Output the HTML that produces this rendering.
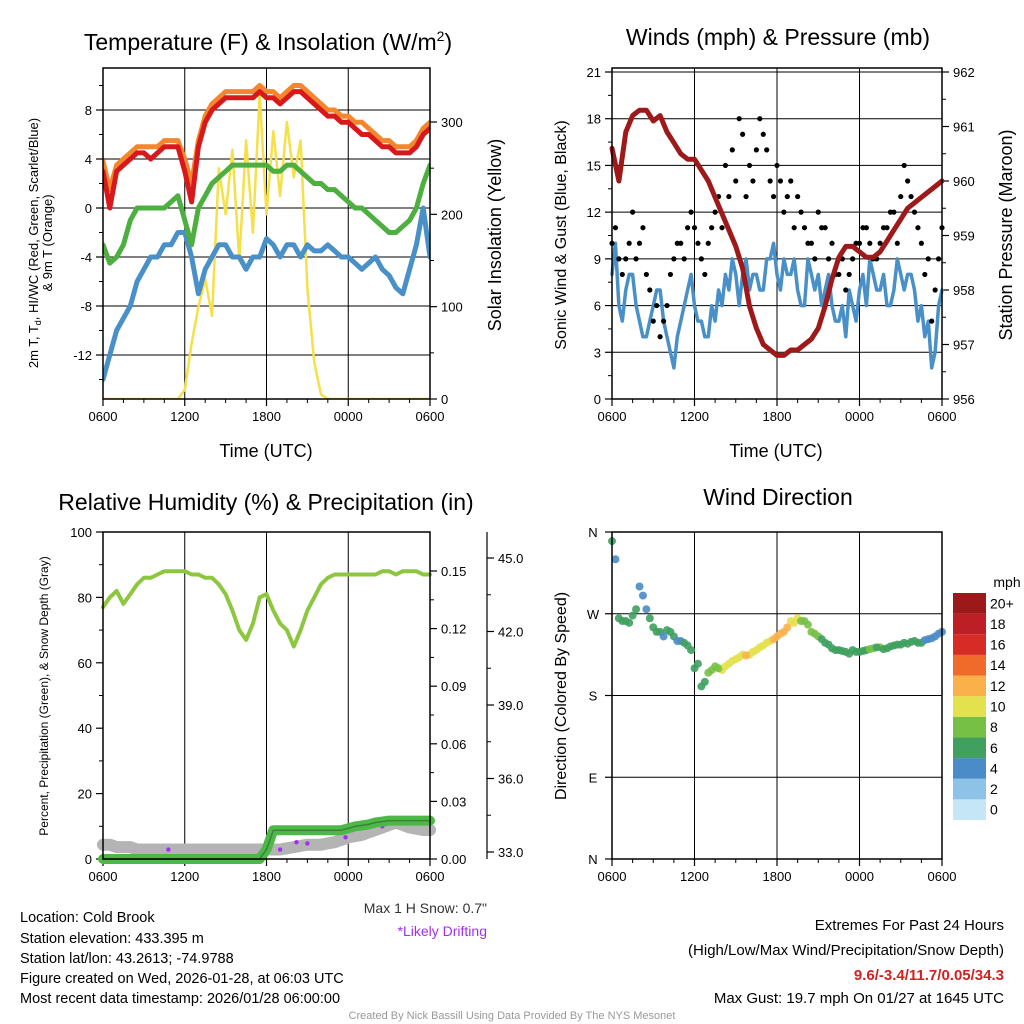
<!DOCTYPE html>
<html><head><meta charset="utf-8"><style>
body{margin:0;background:#fff}
svg{display:block;font-family:"Liberation Sans",sans-serif}
</style></head><body>
<svg id="s" width="1024" height="1024" viewBox="0 0 1024 1024" xmlns="http://www.w3.org/2000/svg">
<rect width="1024" height="1024" fill="#fff"/>
<g id="g"></g>
<text x="268" y="50" font-size="23" text-anchor="middle">Temperature (F) &amp; Insolation (W/m<tspan dy="-9" font-size="14">2</tspan><tspan dy="9">)</tspan></text>
<text x="778" y="45" font-size="23" text-anchor="middle">Winds (mph) &amp; Pressure (mb)</text>
<text x="266" y="510" font-size="23" text-anchor="middle">Relative Humidity (%) &amp; Precipitation (in)</text>
<text x="778" y="505" font-size="23" text-anchor="middle">Wind Direction</text>
<text x="266" y="457" font-size="18" text-anchor="middle">Time (UTC)</text>
<text x="776" y="457" font-size="18" text-anchor="middle">Time (UTC)</text>
<text transform="translate(38,243) rotate(-90)" font-size="13" text-anchor="middle">2m T, T<tspan dy="3" font-size="9">d</tspan><tspan dy="-3">, HI/WC (Red, Green, Scarlet/Blue)</tspan></text>
<text transform="translate(52,243) rotate(-90)" font-size="13" text-anchor="middle">&amp; 9m T (Orange)</text>
<text transform="translate(501,235) rotate(-90)" font-size="18" text-anchor="middle">Solar Insolation (Yellow)</text>
<text transform="translate(566,235) rotate(-90)" font-size="16" text-anchor="middle">Sonic Wind &amp; Gust (Blue, Black)</text>
<text transform="translate(1012,235) rotate(-90)" font-size="18" text-anchor="middle">Station Pressure (Maroon)</text>
<text transform="translate(48,696) rotate(-90)" font-size="12" text-anchor="middle">Percent, Precipitation (Green), &amp; Snow Depth (Gray)</text>
<text transform="translate(566,696) rotate(-90)" font-size="16" text-anchor="middle">Direction (Colored By Speed)</text>
<text x="487" y="913" font-size="14" text-anchor="end" fill="#333">Max 1 H Snow: 0.7"</text>
<text x="487" y="936" font-size="14" text-anchor="end" fill="#a030f0">*Likely Drifting</text>
<g font-size="14.5">
<text x="20" y="922">Location: Cold Brook</text>
<text x="20" y="943">Station elevation: 433.395 m</text>
<text x="20" y="963">Station lat/lon: 43.2613; -74.9788</text>
<text x="20" y="983">Figure created on Wed, 2026-01-28, at 06:03 UTC</text>
<text x="20" y="1003">Most recent data timestamp: 2026/01/28 06:00:00</text>
</g>
<g font-size="15" text-anchor="end">
<text x="1004" y="930">Extremes For Past 24 Hours</text>
<text x="1004" y="955">(High/Low/Max Wind/Precipitation/Snow Depth)</text>
<text x="1004" y="980" fill="#d42020" font-weight="bold">9.6/-3.4/11.7/0.05/34.3</text>
<text x="1004" y="1003">Max Gust: 19.7 mph On 01/27 at 1645 UTC</text>
</g>
<text x="512" y="1019" font-size="11" fill="#999" text-anchor="middle">Created By Nick Bassill Using Data Provided By The NYS Mesonet</text>
<text x="1007" y="587" font-size="14" text-anchor="middle">mph</text>
</svg>
<script>
// ---- data (half-hour steps from 0600 UTC) ----
const xTickLabels = ["0600","1200","1800","0000","0600"];
const tempTicks = [8,4,0,-4,-8,-12];
const solarTicks = [0,100,200,300];
const tempRed = [3,0,3,3.5,4,4.5,4.5,4,4.5,5,5,5,3,0.5,5,7,8,8.5,9,9,9,9,9,9.5,9,9,8.5,9,9.5,9.5,9,8.5,8,7.5,7.5,7,7,6.5,6,6,5.5,5,5,4.5,4.5,4.5,5,6,6.5];
const tempOrange = [3.8,1.5,3.5,4,4.5,5,5,5,5,5.5,5.5,5.5,4,2,5.5,7.5,8.5,9,9.5,9.5,9.5,9.5,9.5,10,9.5,9.5,9,9.5,10,10,9.5,9,8.5,8,8,7.5,7.5,7,7,6.5,6,5.5,5.5,5,5,5,5.5,6.5,7];
const tempGreen = [-3,-4.5,-4,-3,-1,0,0,0,0,0,0.5,1,-1,-3,0,1,2,2.5,3,3.5,3.5,3.5,3.5,3.5,3.5,3,3,3.5,3.5,3,2.5,2,2,1.5,1.5,1,0.5,0,0,-0.5,-1,-1.5,-2,-2,-1.5,-1,0,2,3.5];
const tempBlue = [-14,-12,-10,-9,-8,-6,-5,-4,-4,-3,-3,-2,-2,-4,-7,-5,-4,-3,-3,-4,-4,-5,-4,-4,-2.5,-3,-4,-3,-3,-4,-3,-3.5,-3.5,-3,-3.5,-4,-4,-4.5,-5,-4.5,-4,-5,-5.5,-6.5,-7,-5,-3,0,-4];
const solar = [0,0,0,0,0,0,0,0,0,0,0,0,10,60,100,130,90,250,200,270,150,280,180,330,200,290,220,300,240,280,120,40,5,0,0,0,0,0,0,0,0,0,0,0,0,0,0,0,0];
const windTicks = [0,3,6,9,12,15,18,21];
const pressTicks = [956,957,958,959,960,961,962];
const wind = [8,6,7,8,5,4,6,7,4,2,5,7,6,5,4,5,6,7,8,8,7,8,7,9,8,9,8,7,6,8,8,7,6,5,4,6,7,6,8,7,6,7,8,8,7,6,5,3,7];
const windB = [10,5,8,6,4,5,7,5,3,4,6,8,5,4,6,7,8,9,6,9,8,7,9,10,7,8,9,6,9,7,6,8,5,6,7,5,8,9,7,8,6,9,7,8,5,4,2,6];
const gustA = [10,9,9,12,10,8,5,4,6,9,10,11,11,9,10,12,11,13,14,17,15,16,17,14,15,12,14,13,11,10,12,11,10,8,7,9,10,11,9,10,11,12,13,14,12,10,9,7,11];
const gustB = [11,8,10,9,11,7,6,5,8,10,9,12,10,8,11,13,15,16,18,13,14,18,16,13,14,13,11,12,10,9,11,9,8,9,8,10,11,10,9,11,12,10,15,13,11,8,5,9];
const pressure = [960.6,960.0,960.9,961.2,961.3,961.3,961.1,961.2,960.9,960.7,960.5,960.4,960.4,960.2,960.0,959.7,959.4,959.1,958.8,958.4,957.7,957.3,957.0,956.9,956.8,956.8,956.9,956.9,957.0,957.1,957.3,957.7,958.2,958.6,958.8,958.8,958.7,958.6,958.6,958.7,958.9,959.1,959.3,959.5,959.6,959.7,959.8,959.9,960.0];
const rhTicks = [0,20,40,60,80,100];
const precipTicks = ["0.00","0.03","0.06","0.09","0.12","0.15"];
const snowTicks = ["33.0","36.0","39.0","42.0","45.0"];
const rh = [77,80,82,78,81,84,86,86,87,88,88,88,88,87,87,86,86,84,81,76,70,67,72,80,81,76,72,70,65,70,76,80,84,86,87,87,87,87,87,87,87,88,88,87,88,88,88,87,87];
const precip = [0,0,0,0,0,0,0,0,0,0,0,0,0,0,0,0,0,0,0,0,0,0,0,0,0.005,0.015,0.015,0.015,0.015,0.015,0.015,0.015,0.015,0.015,0.015,0.015,0.016,0.017,0.0175,0.018,0.019,0.0195,0.02,0.02,0.02,0.02,0.02,0.02,0.02];
const snow = [33.3,33.3,33.2,33.2,33.2,33.1,33.1,33.1,33.1,33.1,33.1,33.1,33.1,33.1,33.1,33.1,33.1,33.1,33.1,33.1,33.1,33.1,33.1,33.1,33.1,33.1,33.1,33.15,33.2,33.25,33.3,33.3,33.3,33.35,33.4,33.5,33.6,33.65,33.7,33.8,33.9,34.0,34.1,34.2,34.1,34.0,33.95,33.9,33.9];
const driftHours = [4.8,13,14.2,15,17.8,20.5];
const driftSnow = [33.1,33.1,33.4,33.35,33.6,34.05];
const dirLabels = ["N","E","S","W","N"];
const direction = [350,265,262,268,300,275,255,250,252,245,240,235,210,190,205,212,208,215,220,225,225,230,235,240,245,250,262,265,262,250,245,238,232,230,228,230,228,230,232,233,232,235,236,237,240,238,242,245,250];
const speed = [5,6,6,5,4,4,5,5,6,5,4,5,6,5,7,8,9,9,10,10,10,9,9,10,11,12,10,9,8,8,7,6,6,5,5,6,6,6,7,7,6,6,5,6,6,5,4,3,4];
const directionB = [330,262,260,275,290,265,250,245,250,240,238,230,215,195,208,210,212,218,222,224,228,233,238,242,248,255,260,262,258,248,242,236,230,229,226,228,229,231,233,231,234,236,238,239,238,241,243,248];
const speedB = [4,5,5,6,4,5,5,4,5,4,5,6,5,6,7,8,9,10,10,11,10,9,10,11,12,11,9,8,8,7,6,6,5,5,6,5,6,7,6,6,6,5,6,5,5,4,3,3];
const cbLabels = ["0","2","4","6","8","10","12","14","16","18","20+"];
const cbColors = ["#c4e6f7","#8cc3e6","#4a8cc7","#3fa05f","#77c046","#e3e14e","#fbb14a","#f06a2a","#d62b26","#bd1f26","#9b1919"];

const NS="http://www.w3.org/2000/svg";
const G=document.getElementById('g');
function el(tag,attrs,parent){const e=document.createElementNS(NS,tag);for(const k in attrs)e.setAttribute(k,attrs[k]);(parent||G).appendChild(e);return e;}
function lin(d0,d1,r0,r1){return v=>r0+(v-d0)*(r1-r0)/(d1-d0);}
function hr(i){return i*0.5;}

function panel(x0,x1,y0,y1,name){
  const xs=lin(0,24,x0,x1);
  const g=el('g',{});
  
  
  for(let i=0;i<5;i++){const x=xs(i*6);
    el('line',{x1:x,x2:x,y1:y0,y2:y1,stroke:'#000','stroke-width':1},g);
    el('line',{x1:x,x2:x,y1:y1,y2:y1+7,stroke:'#000','stroke-width':1.2},g);
    const t=el('text',{x:x,y:y1+22,'font-size':13,'text-anchor':'middle'},g);t.textContent=xTickLabels[i];
    
    
  }
  for(let h=1.5;h<24;h+=1.5){if(h%6)el('line',{x1:xs(h),x2:xs(h),y1:y1,y2:y1+4,stroke:'#000'},g);}
  return {xs,g};
}
function ticks(g,vals,labels,ys,x,dir,minor){
  vals.forEach((v,i)=>{const y=ys(v);
    el('line',{x1:x,x2:x+dir*7,y1:y,y2:y,stroke:'#000','stroke-width':1.2},g);
    const t=el('text',{x:x+dir*11,y:y+5,'font-size':13,'text-anchor':dir<0?'end':'start'},g);t.textContent=labels[i];
    
    
  });
  if(minor)minor.forEach(v=>el('line',{x1:x,x2:x+dir*4,y1:ys(v),y2:ys(v),stroke:'#000'},g));
}
function pathH(hs,arr,xs,ys,color,w,name){
  const d=arr.map((v,i)=>(i?'L':'M')+xs(hs[i]).toFixed(1)+','+ys(v).toFixed(1)).join('');
  const p=el('path',{d:d,fill:'none',stroke:color,'stroke-width':w,'stroke-linejoin':'round','stroke-linecap':'round'});
  
  
  return p;
}
function path(arr,xs,ys,color,w,name){return pathH(arr.map((v,i)=>hr(i)),arr,xs,ys,color,w,name);}
function box(x0,x1,y0,y1,name){const r=el('rect',{x:x0,y:y0,width:x1-x0,height:y1-y0,fill:'none',stroke:'#000','stroke-width':1.5});
  
  }

// ---- Panel 1: temperature ----
{const X0=103,X1=430,Y0=68,Y1=399;
 const P=panel(X0,X1,Y0,Y1,'temperature');const ys=lin(0,-12,208,355);const ss=lin(0,300,399,122);
 tempTicks.forEach(v=>el('line',{x1:X0,x2:X1,y1:ys(v),y2:ys(v),stroke:'#000'},P.g));
 ticks(P.g,tempTicks,tempTicks.map(String),ys,X0,-1,[10,6,2,-2,-6,-10,-14]);
 ticks(P.g,solarTicks,solarTicks.map(String),ss,X1,1,[50,150,250]);
 const c=el('clipPath',{id:'c1'});el('rect',{x:X0,y:Y0,width:X1-X0,height:Y1-Y0},c);
 const pg=[
  path(solar,P.xs,ss,'#f5e04a',2.5,'solar-insolation-line'),
  path(tempBlue,P.xs,ys,'#4a90c8',5,'dewpoint-line'),
  path(tempGreen,P.xs,ys,'#4daf3f',5,'heat-index-wind-chill-line'),
  path(tempOrange,P.xs,ys,'#f5862e',5,'9m-temperature-line'),
  path(tempRed,P.xs,ys,'#d7191c',5,'2m-temperature-line')];
 pg.forEach(p=>p.setAttribute('clip-path','url(#c1)'));
 box(X0,X1,Y0,Y1,'temperature-plot-frame');}

// ---- Panel 2: winds ----
{const X0=612,X1=942,Y0=68,Y1=399;
 const P=panel(X0,X1,Y0,Y1,'winds');const ys=lin(0,21,399,72);const ps=lin(956,962,399,72);
 windTicks.forEach(v=>el('line',{x1:X0,x2:X1,y1:ys(v),y2:ys(v),stroke:'#000'},P.g));
 ticks(P.g,windTicks,windTicks.map(String),ys,X0,-1,[1.5,4.5,7.5,10.5,13.5,16.5,19.5]);
 ticks(P.g,pressTicks,pressTicks.map(String),ps,X1,1,[956.5,957.5,958.5,959.5,960.5,961.5]);
 const wh=[],wv=[];
 wind.forEach((v,i)=>{wh.push(hr(i));wv.push(v);if(i<windB.length){wh.push(hr(i)+0.25);wv.push(windB[i]);}});
 pathH(wh,wv,P.xs,ys,'#4a90c8',3.5,'sonic-wind-line');
 gustA.forEach((v,i)=>{const c=el('circle',{cx:P.xs(hr(i)),cy:ys(v),r:2.6,fill:'#000'});
  
  });
 gustB.forEach((v,i)=>{const c=el('circle',{cx:P.xs(hr(i)+0.25),cy:ys(v),r:2.6,fill:'#000'});
  
  });
 path(pressure,P.xs,ps,'#9e1a1a',5,'pressure-line');
 box(X0,X1,Y0,Y1,'winds-plot-frame');}

// ---- Panel 3: humidity ----
{const X0=103,X1=430,Y0=532,Y1=859;
 const P=panel(X0,X1,Y0,Y1,'humidity');const ys=lin(0,100,859,532);const pr=lin(0,0.15,859,571);const sn=lin(33,45,852,558);
 ticks(P.g,rhTicks,rhTicks.map(String),ys,X0,-1,[10,30,50,70,90]);
 ticks(P.g,precipTicks.map(Number),precipTicks,pr,X1,1,[0.015,0.045,0.075,0.105,0.135]);
 el('line',{x1:487,x2:487,y1:532,y2:859,stroke:'#000','stroke-width':1.2},P.g);
 ticks(P.g,snowTicks.map(Number),snowTicks,sn,487,1,[34.5,37.5,40.5,43.5]);
 path(snow,P.xs,sn,'#b4b4b4',12,'snow-depth-line');
 driftHours.forEach((h,i)=>{const c=el('circle',{cx:P.xs(h),cy:sn(driftSnow[i]),r:2.2,fill:'#a030f0'});
  
  });
 path(precip,P.xs,pr,'#4db848',10,'precipitation-line');
 path(precip,P.xs,pr,'#2f5f2a',1.5,'precipitation-center-line').setAttribute('opacity','0.6');
 path(rh,P.xs,ys,'#8dc63f',4,'relative-humidity-line');
 box(X0,X1,Y0,Y1,'humidity-plot-frame');}

// ---- Panel 4: wind direction ----
{const X0=612,X1=942,Y0=532,Y1=859;
 const P=panel(X0,X1,Y0,Y1,'wind-direction');const ys=lin(0,360,859,532);
 [0,90,180,270,360].forEach((v,i)=>{el('line',{x1:X0,x2:X1,y1:ys(v),y2:ys(v),stroke:'#000'},P.g);
   el('line',{x1:X0,x2:X0-7,y1:ys(v),y2:ys(v),stroke:'#000','stroke-width':1.2},P.g);
   const t=el('text',{x:X0-19,y:ys(v)+5,'font-size':13,'text-anchor':'middle'},P.g);t.textContent=dirLabels[i];
   
   });
 function dot(h,d,s){const ci=Math.min(10,Math.round(s/2));
   const c=el('circle',{cx:P.xs(h),cy:ys(d),r:4,fill:cbColors[ci],opacity:0.9});
   
   }
 direction.forEach((d,i)=>dot(hr(i),d,speed[i]));
 directionB.forEach((d,i)=>dot(hr(i)+0.25,d,speedB[i]));
 box(X0,X1,Y0,Y1,'direction-plot-frame');
 const bh=227/11;
 cbColors.forEach((col,i)=>{const y=820-(i+1)*bh;
   const r=el('rect',{x:953,y:y,width:33,height:bh,fill:col});
   
   
   const t=el('text',{x:990,y:y+bh/2+5,'font-size':14},P.g);t.textContent=cbLabels[i];
   
   });}
</script>
</body></html>
